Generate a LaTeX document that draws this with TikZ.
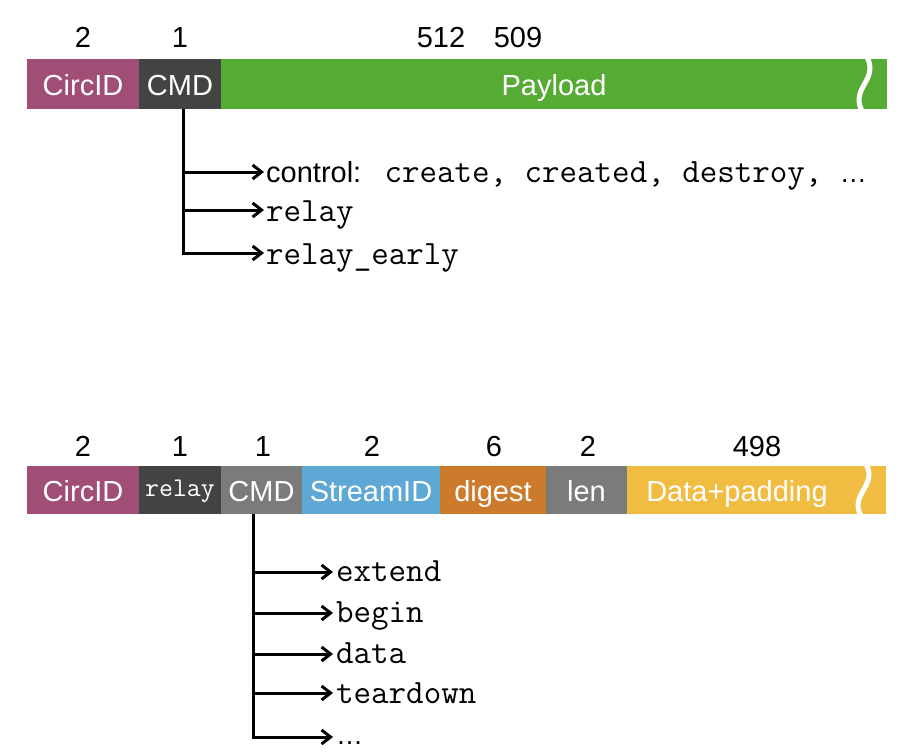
\documentclass[tikz,border=0pt]{standalone}
\usepackage{fontspec}
\setmainfont{Liberation Sans}
\usetikzlibrary{arrows.meta}
\definecolor{cCirc}{HTML}{A14E77}
\definecolor{cDark}{HTML}{434343}
\definecolor{cGreen}{HTML}{56AB35}
\definecolor{cGray}{HTML}{7B7B7B}
\definecolor{cBlue}{HTML}{5EA8D5}
\definecolor{cOrange}{HTML}{CC7B2C}
\definecolor{cYellow}{HTML}{F0BC42}
\begin{document}
\begin{tikzpicture}[x=1pt,y=-1pt,
  seg/.style={draw=none, inner sep=0pt, outer sep=0pt, text=white,
    text height=23pt, text depth=0pt,
    font=\fontsize{29}{30}\selectfont},
  num/.style={inner sep=0pt, anchor=base, font=\fontsize{29}{30}\selectfont},
  tt/.style={inner sep=0pt, anchor=base west, font=\fontsize{34}{35}\selectfont\ttfamily},
  arr/.style={line width=3pt, -{Straight Barb[length=9pt,width=14pt]}},
  brk/.style={white, line width=5pt}]
\useasboundingbox (0,0) rectangle (914,752);

% ---------- top cell ----------
\node[seg, fill=cCirc,  minimum width=112pt, minimum height=50pt] (circ1) at (83,84) {CircID};
\node[seg, fill=cDark,  minimum width=82pt,  minimum height=50pt] (cmd1)  at (180,84) {CMD};
\node[seg, fill=cGreen, minimum width=666pt, minimum height=50pt] (pay1)  at (554,84) {Payload};
\draw[brk] (867,57) .. controls (879,80) and (850,88) .. (862,111);

\node[num] (n1a) at (83,48) {2};
\node[num] (n1b) at (180,48) {1};
\node[num] (n1c) at (441,48) {512};
\node[num] (n1d) at (518,48) {509};

\coordinate (tA) at ([xshift=3pt]cmd1.south);
\coordinate (a1) at (264,172);
\coordinate (a2) at (264,210);
\coordinate (a3) at (264,253);
\node[tt] (t1) at (266,182) {{\rmfamily\fontsize{29}{30}\selectfont control:} create, created, destroy, {\rmfamily\fontsize{27}{30}\selectfont …}};
\node[tt] (t2) at (266,221) {relay};
\node[tt] (t3) at (266,264) {relay\_early};
\draw[arr] (tA) |- (a1);
\draw[arr] (tA) |- (a2);
\draw[arr] (tA) |- (a3);

% ---------- bottom cell ----------
\node[seg, fill=cCirc,   minimum width=112pt, minimum height=48pt] (circ2) at (83,490) {CircID};
\node[seg, fill=cDark,   minimum width=82pt,  minimum height=48pt, text height=12pt,
      font=\fontsize{27}{28}\selectfont\ttfamily] (relay2) at (180,490) {relay};
\node[seg, fill=cGray,   minimum width=81pt,  minimum height=48pt] (cmd2) at (261.5,490) {CMD};
\node[seg, fill=cBlue,   minimum width=138pt, minimum height=48pt] (sid2) at (371,490) {StreamID};
\node[seg, fill=cOrange, minimum width=106pt, minimum height=48pt] (dig2) at (493,490) {digest};
\node[seg, fill=cGray,   minimum width=81pt,  minimum height=48pt] (len2) at (586.5,490) {len};
\node[seg, fill=cYellow, minimum width=259pt, minimum height=48pt] (dat2) at (756.5,490) {};
\node[seg] (datl) at (737,490) {Data+padding};
\draw[brk] (866,464) .. controls (878,486) and (849,494) .. (861,516);

\node[num] (n2a) at (83,456) {2};
\node[num] (n2b) at (180,456) {1};
\node[num] (n2c) at (263,456) {1};
\node[num] (n2d) at (372,456) {2};
\node[num] (n2e) at (494,456) {6};
\node[num] (n2f) at (588,456) {2};
\node[num] (n2g) at (757,456) {498};

\coordinate (tB) at ([xshift=-8.5pt]cmd2.south);
\coordinate (b1) at (333,572);
\coordinate (b2) at (333,613);
\coordinate (b3) at (333,654);
\coordinate (b4) at (333,693);
\coordinate (b5) at (333,737);
\node[tt] (u1) at (336,581) {extend};
\node[tt] (u2) at (336,622) {begin};
\node[tt] (u3) at (336,663) {data};
\node[tt] (u4) at (336,703) {teardown};
\node[tt] (u5) at (336,744) {\rmfamily\fontsize{27}{30}\selectfont …};
\draw[arr] (tB) |- (b1);
\draw[arr] (tB) |- (b2);
\draw[arr] (tB) |- (b3);
\draw[arr] (tB) |- (b4);
\draw[arr] (tB) |- (b5);
\end{tikzpicture}
\end{document}
